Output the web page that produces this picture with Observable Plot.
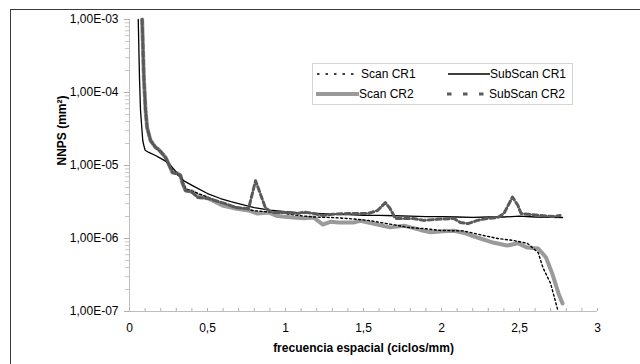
<!DOCTYPE html>
<html><head><meta charset="utf-8">
<script src="https://cdn.jsdelivr.net/npm/d3@7"></script>
<script src="https://cdn.jsdelivr.net/npm/@observablehq/plot@0.6"></script>
<style>
body{margin:0;background:#fff;}
#wrap{position:relative;width:640px;height:364px;overflow:hidden;background:#fff;font-family:"Liberation Sans",Arial,sans-serif;}
#frame{position:absolute;left:10px;top:9px;width:700px;height:400px;border:1px solid #3a3a3a;}
#chart{position:absolute;left:0;top:0;}
#legend{position:absolute;left:312px;top:63px;width:259px;height:40px;border:1px solid #d4d4d4;background:#fff;}
</style></head><body>
<div id="wrap"><div id="frame"></div><div id="chart"></div><div id="legend"></div></div>
<script>
// ---- data (spatial frequency in cycles/mm, NNPS in mm^2) ----
const seriesNames = ["Scan CR1", "SubScan CR1", "Scan CR2", "SubScan CR2"];

const freqScanCR1 = [0.081,0.092,0.103,0.113,0.135,0.167,0.21,0.25,0.28,0.33,0.36,0.42,0.5,0.6,0.7,0.8,0.9,1.0,1.08,1.18,1.29,1.40,1.53,1.65,1.72,1.78,1.88,1.99,2.14,2.27,2.36,2.46,2.55,2.62,2.65,2.70,2.745];
const nnpsScanCR1 = [1e-3,1.6e-4,5.5e-5,3.3e-5,2.2e-5,1.75e-5,1.45e-5,1.1e-5,8.0e-6,7.0e-6,4.8e-6,4.3e-6,3.7e-6,3.0e-6,2.65e-6,2.4e-6,2.3e-6,2.2e-6,2.07e-6,1.97e-6,1.94e-6,1.88e-6,1.77e-6,1.6e-6,1.51e-6,1.42e-6,1.37e-6,1.29e-6,1.27e-6,1.1e-6,1.0e-6,9.4e-7,8.6e-7,6.4e-7,4.0e-7,2.4e-7,1.05e-7];

const freqSubScanCR1 = [0.056,0.064,0.0705,0.085,0.092,0.10,0.124,0.167,0.20,0.231,0.263,0.308,0.346,0.404,0.50,0.583,0.65,0.724,0.80,0.90,1.0,1.1,1.2,1.3,1.4,1.5,1.6,1.7,1.8,1.9,2.0,2.1,2.2,2.3,2.4,2.5,2.6,2.7,2.776];
const nnpsSubScanCR1 = [1e-3,1.6e-4,5.7e-5,2.2e-5,1.88e-5,1.62e-5,1.51e-5,1.37e-5,1.25e-5,1.15e-5,1.0e-5,7.8e-6,6.2e-6,5.3e-6,4.13e-6,3.53e-6,3.2e-6,2.92e-6,2.65e-6,2.45e-6,2.34e-6,2.25e-6,2.2e-6,2.15e-6,2.12e-6,2.08e-6,2.08e-6,2.05e-6,2.02e-6,2.0e-6,2.0e-6,1.97e-6,1.95e-6,1.97e-6,1.97e-6,2.02e-6,1.97e-6,1.95e-6,1.94e-6];

const freqScanCR2 = [0.081,0.092,0.103,0.113,0.135,0.167,0.186,0.21,0.231,0.25,0.276,0.308,0.327,0.34,0.359,0.404,0.436,0.506,0.596,0.68,0.763,0.82,0.89,0.94,0.98,1.05,1.12,1.18,1.24,1.29,1.34,1.40,1.44,1.48,1.56,1.67,1.76,1.87,1.93,2.01,2.08,2.14,2.19,2.25,2.33,2.42,2.49,2.55,2.62,2.67,2.71,2.75,2.776];
const nnpsScanCR2 = [1e-3,1.6e-4,5.7e-5,3.3e-5,2.2e-5,1.77e-5,1.66e-5,1.46e-5,1.29e-5,1.06e-5,8.0e-6,7.8e-6,7.3e-6,5.7e-6,4.55e-6,4.4e-6,3.88e-6,3.53e-6,2.83e-6,2.58e-6,2.42e-6,2.2e-6,2.27e-6,2.05e-6,2.0e-6,1.94e-6,1.9e-6,1.94e-6,1.55e-6,1.7e-6,1.66e-6,1.66e-6,1.66e-6,1.75e-6,1.6e-6,1.42e-6,1.5e-6,1.3e-6,1.22e-6,1.26e-6,1.28e-6,1.2e-6,1.1e-6,1.0e-6,8.8e-7,8.0e-7,8.6e-7,7.5e-7,7.3e-7,5.5e-7,3.3e-7,1.77e-7,1.29e-7];

const freqSubScanCR2 = [0.081,0.092,0.103,0.113,0.135,0.167,0.186,0.21,0.231,0.25,0.276,0.308,0.327,0.34,0.359,0.40,0.436,0.506,0.615,0.68,0.763,0.808,0.872,0.917,1.0,1.08,1.115,1.18,1.24,1.30,1.40,1.53,1.59,1.64,1.67,1.705,1.82,1.885,1.97,2.08,2.12,2.17,2.23,2.29,2.36,2.40,2.455,2.49,2.51,2.57,2.63,2.72,2.76];
const nnpsSubScanCR2 = [1e-3,1.6e-4,5.7e-5,3.3e-5,2.2e-5,1.77e-5,1.66e-5,1.46e-5,1.29e-5,1.06e-5,8.0e-6,7.8e-6,7.3e-6,5.7e-6,4.55e-6,4.3e-6,3.65e-6,3.53e-6,3.0e-6,2.66e-6,2.55e-6,6.2e-6,2.6e-6,2.27e-6,2.27e-6,2.2e-6,2.3e-6,2.2e-6,2.07e-6,2.15e-6,2.2e-6,2.2e-6,2.42e-6,3.1e-6,2.58e-6,1.88e-6,1.88e-6,1.77e-6,1.83e-6,1.88e-6,1.66e-6,1.6e-6,1.77e-6,1.88e-6,1.94e-6,2.2e-6,3.7e-6,2.83e-6,2.2e-6,2.13e-6,2.07e-6,2.0e-6,2.07e-6];

const xTickLabels = [0, 0.5, 1, 1.5, 2, 2.5, 3];
const xMinorTicks = d3.range(0, 31).map(i => i / 10);
const yMajorTicks = [1e-7, 1e-6, 1e-5, 1e-4, 1e-3];
const yMinorTicks = [1e-7,1e-6,1e-5,1e-4].flatMap(b => d3.range(2,10).map(k => k*b));
const xTitle = "frecuencia espacial (ciclos/mm)";
const yTitle = "NNPS (mm²)";

const pts = (f, v) => f.map((x, i) => ({x, y: v[i]}));
const fmtY = d => "1,00E-" + String(Math.round(-Math.log10(d))).padStart(2, "0");

const chart = Plot.plot({
  width: 640, height: 364,
  marginLeft: 129, marginRight: 43, marginTop: 19, marginBottom: 53,
  style: {fontFamily: '"Liberation Sans", Arial, sans-serif', fontSize: "12px", background: "transparent", color: "#000"},
  x: {domain: [0, 3]},
  y: {type: "log", domain: [1e-7, 1e-3]},
  marks: [
    Plot.ruleX([0], {stroke: "#bdbdbd"}),
    Plot.ruleY([1e-7], {stroke: "#bdbdbd"}),
    Plot.axisY({ticks: yMajorTicks, tickSize: 5, tickPadding: 6, tickFormat: fmtY, stroke: "#b0b0b0", label: null}),
    Plot.axisY({ticks: yMinorTicks, tickSize: 4, text: null, stroke: "#c8c8c8", label: null}),
    Plot.axisX({ticks: xTickLabels, tickSize: 0, tickPadding: 12, tickFormat: d => String(d).replace(".", ","), label: null}),
    Plot.axisX({ticks: xMinorTicks, tickSize: 3, dy: -3, text: null, stroke: "#b0b0b0", label: null}),
    Plot.line(pts(freqScanCR2, nnpsScanCR2), {x: "x", y: "y", stroke: "#9a9a9a", strokeWidth: 4}),
    Plot.line(pts(freqScanCR1, nnpsScanCR1), {x: "x", y: "y", stroke: "#000", strokeWidth: 1.4, strokeDasharray: "2,2.5"}),
    Plot.line(pts(freqSubScanCR1, nnpsSubScanCR1), {x: "x", y: "y", stroke: "#000", strokeWidth: 1.3}),
    Plot.line(pts(freqSubScanCR2, nnpsSubScanCR2), {x: "x", y: "y", stroke: "#5a5a5a", strokeWidth: 3, strokeDasharray: "5,3"}),
    Plot.text([xTitle], {frameAnchor: "bottom", dy: 40, fontWeight: "bold", fontSize: 12}),
    Plot.text([yTitle], {frameAnchor: "left", dx: -67, rotate: -90, fontWeight: "bold", fontSize: 12})
  ]
});
document.getElementById("chart").appendChild(chart);

// legend
const ns = "http://www.w3.org/2000/svg";
const lg = document.createElementNS(ns, "svg");
lg.setAttribute("width", 259); lg.setAttribute("height", 40);
lg.style.display = "block";
const items = [
  {name: seriesNames[0], x1: 4, x2: 43, tx: 48, ty: 10, stroke: "#000", w: 1.4, dash: "2.5,6"},
  {name: seriesNames[1], x1: 135, x2: 177, tx: 177, ty: 10, stroke: "#000", w: 1.3, dash: null},
  {name: seriesNames[2], x1: 3, x2: 46, tx: 46, ty: 30, stroke: "#9a9a9a", w: 4, dash: null},
  {name: seriesNames[3], x1: 134, x2: 172, tx: 176, ty: 30, stroke: "#5a5a5a", w: 3, dash: "4.5,11.5"}
];
for (const it of items) {
  const l = document.createElementNS(ns, "line");
  l.setAttribute("x1", it.x1); l.setAttribute("x2", it.x2);
  l.setAttribute("y1", it.ty); l.setAttribute("y2", it.ty);
  l.setAttribute("stroke", it.stroke); l.setAttribute("stroke-width", it.w);
  if (it.dash) l.setAttribute("stroke-dasharray", it.dash);
  lg.appendChild(l);
  const t = document.createElementNS(ns, "text");
  t.setAttribute("x", it.tx); t.setAttribute("y", it.ty);
  t.setAttribute("dy", "0.35em");
  t.setAttribute("font-family", '"Liberation Sans", Arial, sans-serif');
  t.setAttribute("font-size", "12");
  t.textContent = it.name;
  lg.appendChild(t);
}
document.getElementById("legend").appendChild(lg);
</script>
</body></html>
